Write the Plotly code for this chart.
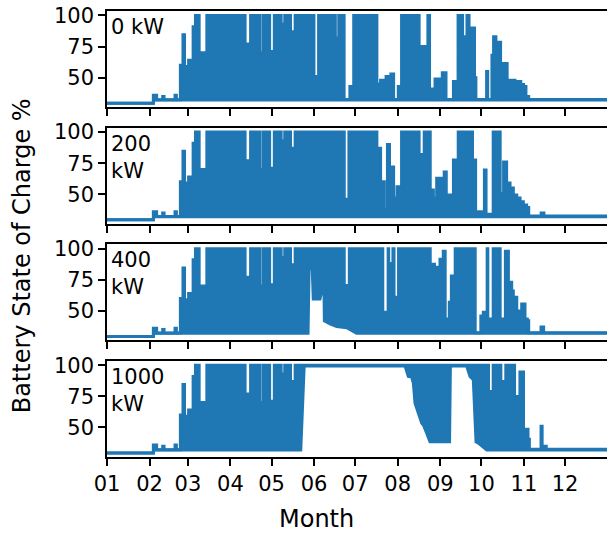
import pandas as pd
import plotly.graph_objects as go
from plotly.subplots import make_subplots

YEAR_START = pd.Timestamp("2019-01-01")

panel_labels = ["0 kW", "200<br>kW", "400<br>kW", "1000<br>kW"]
month_ticks = ["01", "02", "03", "04", "05", "06", "07", "08", "09", "10", "11", "12"]
y_ticks = [50, 75, 100]

# Daily-maximum SOC envelope (day of year, %) shared by all panels, Jan - May
early_max_days = [0, 33.8, 36.2, 40.6, 41.6, 49.6, 50.6, 53.5, 55.4, 56.5, 59.5, 62.8, 64.5, 67.2,
                  72.8, 100.7, 104.7, 111.6, 114.0, 118.6, 122.0, 127.0, 129.6, 133.8, 137.2]
early_max_soc = [29.5, 36, 32.2, 35, 32.2, 36, 32.2, 60, 84.5, 59, 64, 91, 100, 70,
                 100, 77, 100, 70, 100, 71, 100, 93, 100, 87, 100]

# 0 kW
p0_max_days = [150.9, 154.3, 166.5, 169.0, 172.9, 177.1, 179.9, 196.8, 199.5, 203.5, 207.0, 209.0,
               212.4, 214.8, 227.6, 234.0, 235.2, 239.2, 242.3, 244.5, 247.2, 252.6, 256.0, 259.3,
               262.5, 264.0, 268.0, 269.0, 276.8, 277.6, 280.7, 281.9, 283.6, 285.0, 287.0, 289.0,
               291.8, 297.5, 301.7, 303.8, 305.5, 307.5, 364.9]
p0_max_soc = [51, 100, 82, 100, 32.5, 43, 100, 45, 48, 51, 53, 32.5,
              43, 100, 75, 100, 41, 49, 32.5, 54, 32.5, 47, 100, 83,
              100, 90, 50, 32.5, 55, 32.5, 68, 83, 68, 78.5, 36, 61.5,
              48, 47, 44.5, 43, 35, 32.5, 32.5]
p0_min_days = [0, 33.8, 33.9, 364.9]
p0_min_soc = [29.5, 29.5, 32, 32]

# 200 kW
p1_max_days = [173.0, 176.4, 196.8, 199.5, 202.2, 204.5, 206.0, 209.0, 211.5, 214.8, 227.6, 231.3,
               235.7, 238.0, 240.4, 244.0, 245.9, 247.4, 249.4, 252.6, 256.1, 266.5, 268.8, 270.8,
               275.2, 276.4, 281.6, 283.6, 285.8, 286.7, 289.2, 291.4, 293.9, 296.3, 298.8, 301.2,
               303.6, 306.0, 307.5, 316.6, 318.6, 364.9]
p1_max_soc = [46, 100, 87, 60, 37.5, 90, 72, 47, 56, 100, 82, 100,
              53.5, 47, 63, 62, 68, 40, 49.5, 77.5, 100, 77.5, 35, 36,
              69.5, 34, 100, 79, 100, 50.5, 76, 59, 55, 49.5, 47, 44,
              41.5, 39.5, 32.5, 35, 32.5, 32.5]
p1_min_days = [0, 33.8, 33.9, 364.9]
p1_min_soc = [29.5, 29.5, 32, 32]

# 400 kW
p2_max_days = [173.0, 176.7, 201.1, 205.0, 205.4, 208.5, 209.3, 212.6, 235.7, 238.8, 240.6, 242.8,
               245.2, 246.6, 249.6, 251.1, 253.9, 268.5, 272.6, 274.4, 277.2, 277.7, 281.6, 286.7,
               290.5, 292.7, 295.1, 296.3, 298.8, 300.7, 302.4, 304.8, 306.5, 307.5, 316.5, 318.4,
               364.9]
p2_max_soc = [70.5, 100, 49, 100, 88, 100, 61, 100, 87.5, 67.5, 85, 91.5,
              98, 43.5, 57, 78, 100, 32.5, 46, 49, 100, 43.5, 100, 43.5,
              98, 73, 66, 61, 49, 50, 55.5, 43.5, 42, 32.5, 37, 32.5,
              32.5]
p2_min_days = [0, 33.8, 33.9, 146.6, 147.6, 148.8, 149.7, 150.4, 155.3, 157.3, 158.2, 158.5,
               162.6, 167.5, 174.8, 178.4, 182.0, 364.9]
p2_min_soc = [29.5, 29.5, 32, 32, 99, 85, 83, 59.5, 59.5, 69, 68, 42,
              39.5, 37.5, 36.5, 34.5, 32, 32]

# 1000 kW
p3_max_days = [278.2, 281.6, 287.2, 290.8, 297.2, 301.1, 303.7, 307.0, 308.0, 316.5, 317.3, 319.3,
               320.3, 364.9]
p3_max_soc = [79, 100, 87, 100, 75, 94.5, 48.5, 40.5, 32.5, 51, 32.5, 35,
              32.5, 32.5]
p3_min_days = [0, 33.8, 33.9, 141.3, 143.8, 217.3, 219.7, 222.2, 223.4, 224.6, 229.5, 230.7,
               233.1, 235.5, 246.8, 247.2, 247.6, 248.0, 249.8, 250.4, 262.2, 264.7, 267.1, 269.1,
               270.8, 276.9, 364.9]
p3_min_soc = [29.5, 29.5, 32, 32, 99.5, 99.5, 91, 90.5, 85.5, 69.5, 53.5, 52,
              45.5, 38.5, 38.5, 50, 50, 38.5, 38.5, 99.5, 99.5, 91, 88.5, 38.5,
              37.5, 32, 32]

panels = [
    (early_max_days + p0_max_days, early_max_soc + p0_max_soc, p0_min_days, p0_min_soc),
    (early_max_days + p1_max_days, early_max_soc + p1_max_soc, p1_min_days, p1_min_soc),
    (early_max_days + p2_max_days, early_max_soc + p2_max_soc, p2_min_days, p2_min_soc),
    (early_max_days + p3_max_days, early_max_soc + p3_max_soc, p3_min_days, p3_min_soc),
]

BLUE = "#1f77b4"
FONT = "DejaVu Sans"


def to_dates(days):
    return YEAR_START + pd.to_timedelta(days, unit="D")


fig = make_subplots(rows=4, cols=1, shared_xaxes=True, vertical_spacing=0.0457)

for i, (mxd, mxs, mnd, mns) in enumerate(panels):
    assert len(mxd) == len(mxs) and len(mnd) == len(mns)
    r = i + 1
    fig.add_trace(go.Scatter(x=to_dates(mnd), y=mns, mode="lines",
                             line=dict(color=BLUE, width=3, shape="linear"),
                             showlegend=False, hoverinfo="skip"), row=r, col=1)
    fig.add_trace(go.Scatter(x=to_dates(mxd), y=mxs, mode="lines",
                             line=dict(color=BLUE, width=3, shape="hv"),
                             fill="tonexty", fillcolor=BLUE,
                             showlegend=False, hoverinfo="skip"), row=r, col=1)
    fig.add_annotation(text=panel_labels[i], xref="x domain", yref="y domain",
                       x=0.004, y=1.0, xanchor="left", yanchor="top", align="left",
                       showarrow=False, yshift=-2,
                       font=dict(family=FONT, size=21, color="black"), row=r, col=1)

tick_dates = [pd.Timestamp(2019, m, 1) for m in range(1, 13)]
x_range = [YEAR_START, YEAR_START + pd.Timedelta(days=364.6)]

fig.update_xaxes(range=x_range, tickvals=tick_dates, ticktext=month_ticks,
                 showline=True, linecolor="black", linewidth=1.6, mirror=True,
                 ticks="outside", ticklen=7, tickwidth=1.5, tickcolor="black",
                 showgrid=False, zeroline=False,
                 tickfont=dict(family=FONT, size=21, color="black"))
fig.update_yaxes(range=[26.3, 103.6], tickvals=y_ticks,
                 showline=True, linecolor="black", linewidth=1.6, mirror=False,
                 ticks="outside", ticklen=7, tickwidth=1.5, tickcolor="black",
                 showgrid=False, zeroline=False,
                 tickfont=dict(family=FONT, size=21, color="black"))

fig.add_annotation(text="Battery State of Charge %", xref="paper", yref="paper",
                   x=-0.17, y=0.45, xanchor="center", yanchor="middle", textangle=-90,
                   showarrow=False, font=dict(family=FONT, size=24, color="black"))
fig.add_annotation(text="Month", xref="paper", yref="paper",
                   x=0.418, y=-0.139, xanchor="center", yanchor="middle",
                   showarrow=False, font=dict(family=FONT, size=24, color="black"))

fig.update_layout(width=607, height=533, margin=dict(l=107, r=0, t=11, b=76),
                  plot_bgcolor="white", paper_bgcolor="white")

fig.write_html("out.html")
